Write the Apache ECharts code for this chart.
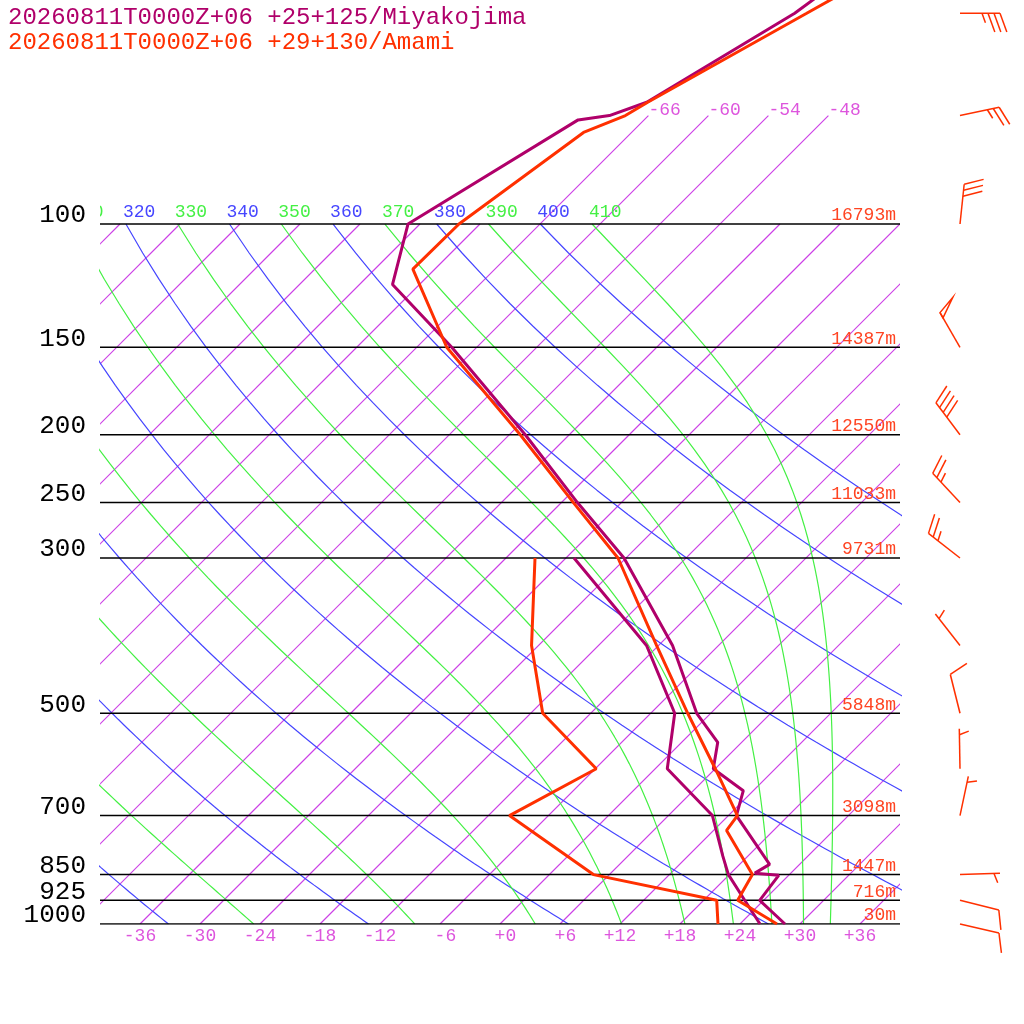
<!DOCTYPE html>
<html><head><meta charset="utf-8">
<script src="https://cdn.jsdelivr.net/npm/echarts@6/dist/echarts.min.js"></script>
<style>html,body{margin:0;padding:0;background:#fff}#c{width:1024px;height:1024px}</style>
</head><body><div id="c"></div>
<script>
// ---------- data ----------
const stationTitles = ["20260811T0000Z+06 +25+125/Miyakojima", "20260811T0000Z+06 +29+130/Amami"];
const isobarLevels = [100, 150, 200, 250, 300, 500, 700, 850, 925, 1000];
const isobarLabels = ["100", "150", "200", "250", "300", "500", "700", "850", "925", "1000"];
const heightLabels = ["16793m", "14387m", "12550m", "11033m", "9731m", "5848m", "3098m", "1447m", "716m", "30m"];
const isotherms = [-108, -102, -96, -90, -84, -78, -72, -66, -60, -54, -48, -42, -36, -30, -24, -18, -12, -6, 0, 6, 12, 18, 24, 30, 36];
const upperIsotherms = [-66, -60, -54, -48];
const upperIsothermLabels = ["-66", "-60", "-54", "-48"];
const bottomTicks = [-36, -30, -24, -18, -12, -6, 0, 6, 12, 18, 24, 30, 36];
const bottomTickLabels = ["-36", "-30", "-24", "-18", "-12", " -6", " +0", " +6", "+12", "+18", "+24", "+30", "+36"];
const dryThetas = [240, 260, 280, 300, 320, 340, 360, 380, 400];
const moistThetas = [250, 270, 290, 310, 330, 350, 370, 390, 410];
const thetaLabelValues = [310, 320, 330, 340, 350, 360, 370, 380, 390, 400, 410];

// Miyakojima
const miyaTempP = [30, 50, 67, 70, 71, 100, 122, 150, 200, 250, 300, 400, 500, 550, 600, 645, 700, 822, 846, 852, 925, 1000];
const miyaTempT = [-56.1, -61.6, -67.5, -69.9, -72.6, -79.2, -74.7, -62.5, -46.4, -34.4, -24.2, -10.6, -1.4, 3.6, 5.8, 11.0, 12.8, 21.0, 20.4, 23.0, 23.6, 28.5];
const miyaDewP = [300, 400, 500, 600, 700, 800, 850, 925, 1000];
const miyaDewT = [-29.2, -13.2, -3.6, 1.2, 10.4, 15.5, 17.9, 22.1, 26.0];
// Amami
const amamiTempP = [30, 50, 67, 70, 74, 100, 116, 150, 200, 250, 300, 400, 500, 600, 700, 735, 850, 925, 1000];
const amamiTempT = [-48.3, -60.4, -67.4, -68.3, -70.8, -74.1, -74.2, -63.0, -46.9, -34.8, -24.8, -12.2, -2.3, 6.0, 12.9, 13.3, 20.3, 21.4, 27.7];
const amamiDewP = [300, 400, 500, 600, 700, 850, 925, 1000];
const amamiDewT = [-33.1, -24.7, -16.8, -5.9, -9.9, 4.4, 19.3, 21.8];
// Amami winds
const windP = [50, 70, 100, 150, 200, 250, 300, 400, 500, 600, 700, 850, 925, 1000];
const windDir = [90, 78, 6, 330, 323, 317, 308, 322, 346, 359, 12, 88, 104, 103];
const windSpd = [35, 25, 30, 50, 40, 25, 25, 5, 10, 5, 5, 5, 10, 10];

// ---------- helpers ----------
const SK = 30.4;           // skew: X units per ln(1000/p)
const KAPPA = 2 / 7;
const P_TOP = 1000 * Math.exp(-924 / 304);
const FONT = '"Liberation Mono", monospace';
const C_ISO = '#cc40e6', C_ISOLBL = '#dd55dd', C_BLUE = '#4646ff', C_GREEN = '#44f044';
const C_MIYA = '#b0006a', C_AMAMI = '#ff3000', C_HGT = '#ff4422';

function skewX(T, p) { return T + SK * Math.log(1000 / p); }
function profile(ps, ts) { return ps.map((p, i) => [skewX(ts[i], p), p]); }

function dryCurve(theta) {
  const pts = [];
  for (let p = 100; p <= 1000; p += 10) pts.push([skewX(theta * Math.pow(p / 1000, KAPPA) - 273.15, p), p]);
  return pts;
}
function satMix(p, T) {
  const Tc = T - 273.15;
  const es = 6.112 * Math.exp(17.67 * Tc / (Tc + 243.5));
  return 0.622 * es / (p - es);
}
function dTdp(p, T) {
  const Rd = 287.04, cp = 1005.7, Lv = 2.501e6, eps = 0.622;
  const rs = satMix(p, T);
  return ((Rd * T + Lv * rs) / p) / (cp + (Lv * Lv * rs * eps) / (Rd * T * T));
}
function moistCurve(theta) {
  let p = 100, T = theta * Math.pow(0.1, KAPPA);
  const pts = [[skewX(T - 273.15, p), p]];
  const dp = 2;
  let step = 0;
  while (p < 1000 - 1e-9) {
    const k1 = dTdp(p, T), k2 = dTdp(p + dp / 2, T + dp / 2 * k1),
          k3 = dTdp(p + dp / 2, T + dp / 2 * k2), k4 = dTdp(p + dp, T + dp * k3);
    T += dp / 6 * (k1 + 2 * k2 + 2 * k3 + k4);
    p += dp; step++;
    if (step % 5 === 0) pts.push([skewX(T - 273.15, p), p]);
  }
  return pts;
}
function lineSeries(data, color, width, z) {
  return { type: 'line', data: data, symbol: 'none', showSymbol: false, silent: true, clip: true, z: z || 2,
           color: color, itemStyle: { color: color },
           lineStyle: { color: color, width: width, opacity: 1 }, emphasis: { disabled: true } };
}
function textSeries(pts, texts, colors, fontSize, dx, dy, align, clip) {
  return {
    type: 'custom', coordinateSystem: 'cartesian2d', clip: !!clip, silent: true, z: 5,
    data: pts,
    renderItem: function (params, api) {
      const c = api.coord([api.value(0), api.value(1)]);
      const col = Array.isArray(colors) ? colors[params.dataIndex] : colors;
      return { type: 'text', x: c[0] + dx, y: c[1] + dy,
        style: { text: texts[params.dataIndex], fill: col, font: fontSize + 'px ' + FONT,
                 align: align, verticalAlign: 'middle' } };
    }
  };
}

// ---------- series ----------
const series = [];
// isotherms as one custom series of skewed lines
series.push({
  type: 'custom', coordinateSystem: 'cartesian2d', clip: true, silent: true, z: 1,
  data: isotherms.map(T => [T, upperIsotherms.indexOf(T) >= 0 ? 70 : 100]),
  renderItem: function (params, api) {
    const T = api.value(0), top = api.value(1);
    const a = api.coord([skewX(T, 1000), 1000]), b = api.coord([skewX(T, top), top]);
    return { type: 'line', shape: { x1: a[0], y1: a[1], x2: b[0], y2: b[1] },
             style: { stroke: C_ISO, lineWidth: 1.2 } };
  }
});
dryThetas.forEach(th => series.push(lineSeries(dryCurve(th), C_BLUE, 1.2, 1)));
moistThetas.forEach(th => series.push(lineSeries(moistCurve(th), C_GREEN, 1.2, 1)));
isobarLevels.forEach(p => series.push(lineSeries([[-40, p], [40, p]], '#000', 1.5, 3)));

series.push(lineSeries(profile(miyaDewP, miyaDewT), C_MIYA, 3, 6));
series.push(lineSeries(profile(amamiDewP, amamiDewT), C_AMAMI, 3, 6));
series.push(lineSeries(profile(miyaTempP, miyaTempT), C_MIYA, 3, 6));
series.push(lineSeries(profile(amamiTempP, amamiTempT), C_AMAMI, 3, 7));

// labels
series.push(textSeries(isobarLevels.map(p => [-40, p]), isobarLabels, '#000', 26, -14, -8.5, 'right', false));
series.push(textSeries(isobarLevels.map(p => [40, p]), heightLabels, C_HGT, 18, -4, -8.5, 'right', false));
series.push(textSeries(thetaLabelValues.map(th => [skewX(th * Math.pow(0.1, KAPPA) - 273.15, 100), 100]),
  thetaLabelValues.map(String), thetaLabelValues.map(th => (th / 10) % 2 === 0 ? C_BLUE : C_GREEN), 18, -3, -11.5, 'left', true));
series.push(textSeries(upperIsotherms.map(T => [skewX(T, 70), 70]), upperIsothermLabels, C_ISOLBL, 18, 0, -5, 'left', false));
series.push(textSeries(bottomTicks.map(T => [T, 1000]), bottomTickLabels, C_ISOLBL, 18, 0, 12.5, 'center', false));

// wind barbs (Amami)
series.push({
  type: 'custom', coordinateSystem: 'cartesian2d', clip: false, silent: true, z: 8,
  data: windP.map(p => [46, p]),
  renderItem: function (params, api) {
    const i = params.dataIndex;
    const c = api.coord([api.value(0), api.value(1)]);
    const d = windDir[i] * Math.PI / 180;
    const ux = Math.sin(d), uy = -Math.cos(d);
    const L = 40, BL = 20, SP = 6;
    const a = 70 * Math.PI / 180;
    const vx = ux * Math.cos(a) - uy * Math.sin(a), vy = ux * Math.sin(a) + uy * Math.cos(a);
    const tip = [c[0] + ux * L, c[1] + uy * L];
    const st = { stroke: C_AMAMI, lineWidth: 1.5, fill: null };
    const ch = [{ type: 'polyline', shape: { points: [c, tip] }, style: st }];
    let rem = Math.round(windSpd[i] / 5) * 5, pos = 0;
    const at = s => [tip[0] - ux * s, tip[1] - uy * s];
    while (rem >= 50) {
      const b = at(pos), e = at(pos + SP);
      ch.push({ type: 'polygon', shape: { points: [b, [b[0] + vx * BL, b[1] + vy * BL], e] }, style: st });
      pos += SP + 1; rem -= 50;
    }
    while (rem >= 10) {
      const b = at(pos);
      ch.push({ type: 'polyline', shape: { points: [b, [b[0] + vx * BL, b[1] + vy * BL]] }, style: st });
      pos += SP; rem -= 10;
    }
    if (rem >= 5) {
      if (pos === 0) pos = SP;
      const b = at(pos);
      ch.push({ type: 'polyline', shape: { points: [b, [b[0] + vx * BL / 2, b[1] + vy * BL / 2]] }, style: st });
    }
    return { type: 'group', children: ch };
  }
});

const chart = echarts.init(document.getElementById('c'), null, { renderer: 'canvas', width: 1024, height: 1024 });
chart.setOption({
  animation: false,
  backgroundColor: '#fff',
  grid: { left: 100, right: 124, top: 0, bottom: 100, containLabel: false },
  xAxis: { type: 'value', min: -40, max: 40, show: false },
  yAxis: { type: 'log', min: P_TOP, max: 1000, inverse: true, show: false },
  graphic: [
    { type: 'text', x: 8, y: 17.5, silent: true, style: { text: stationTitles[0], fill: C_MIYA, font: '24px ' + FONT, align: 'left', verticalAlign: 'middle' } },
    { type: 'text', x: 8, y: 42.5, silent: true, style: { text: stationTitles[1], fill: C_AMAMI, font: '24px ' + FONT, align: 'left', verticalAlign: 'middle' } }
  ],
  series: series
});
</script></body></html>
